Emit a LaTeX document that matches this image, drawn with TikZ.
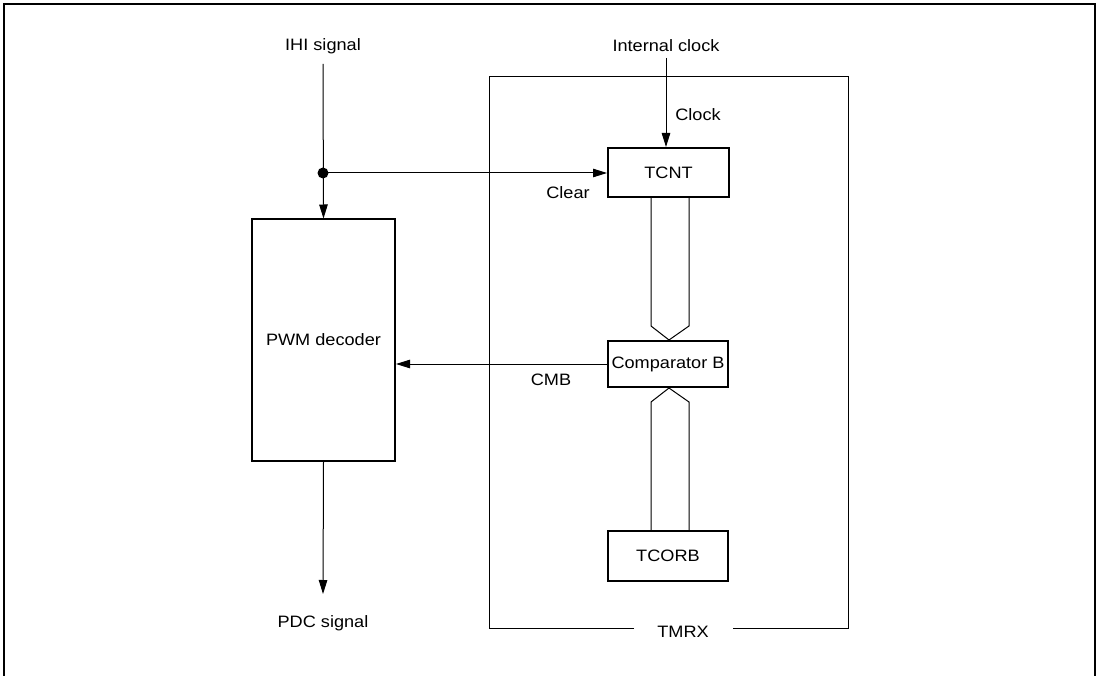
\documentclass[tikz,border=0pt]{standalone}
\usepackage{fontspec}
\setmainfont[FakeStretch=1.1]{Liberation Sans}
\usetikzlibrary{arrows.meta}
\begin{document}
\begin{tikzpicture}[x=1pt,y=-1pt,
  every node/.style={font=\fontsize{16.5}{19}\selectfont, inner sep=0pt},
  blk/.style={draw, line width=2pt, rectangle},
  thin/.style={line width=1pt},
  arr/.style={thin, -{Triangle[length=14pt,width=8.5pt]}},
  lbl/.style={anchor=center}]
\useasboundingbox (0,0) rectangle (1100,676);
% outer frame
\draw[line width=2.8pt] (4,676) -- (4,4) -- (1095,4) -- (1095,676);
% blocks
\node[blk, minimum width=143pt, minimum height=241pt] (pwm) at (323.5,340) {PWM decoder};
\node[blk, minimum width=121pt, minimum height=49pt] (tcnt) at (668.5,172.5) {TCNT};
\node[blk, minimum width=120pt, minimum height=46pt] (cmp) at (668,364) {Comparator B};
\node[blk, minimum width=120pt, minimum height=50pt] (tcorb) at (668,556) {TCORB};
% TMRX box
\node[lbl] (tmrx) at (683,632) {TMRX};
\draw[thin] (634,628) -- (489,628) -- (489,77) -- (848,77) -- (848,628) -- (733,628);
% texts
\node[lbl] (ihi) at (323,46) {IHI signal};
\node[lbl] (intclk) at (666,46) {Internal clock};
\node[lbl] (clocklbl) at (698,115) {Clock};
\node[lbl] (clearlbl) at (568,193) {Clear};
\node[lbl] (cmblbl) at (551,380) {CMB};
\node[lbl] (pdc) at (323,623) {PDC signal};
% coordinates
\coordinate (ihitop) at (323,64);
\coordinate (j) at (323,173);
\coordinate (clk) at (666,58);
\coordinate (pdcend) at (323,594);
% connectors
\draw[arr] (ihitop) -- (pwm.north);
\fill (j) circle (5.5pt);
\draw[arr] (j) -- (tcnt.west |- j);
\draw[arr] (clk) -- (clk |- tcnt.north);
\draw[arr] (cmp.west) -- (cmp.west -| pwm.east);
\draw[arr] (pwm.south) -- (pdcend);
% buses
\draw[thin, line join=miter] (651,198) -- (651,326) -- (669,340) -- (689,326) -- (689,198);
\draw[thin, line join=miter] (651,531) -- (651,402) -- (669,388) -- (689,402) -- (689,531);
\end{tikzpicture}
\end{document}
